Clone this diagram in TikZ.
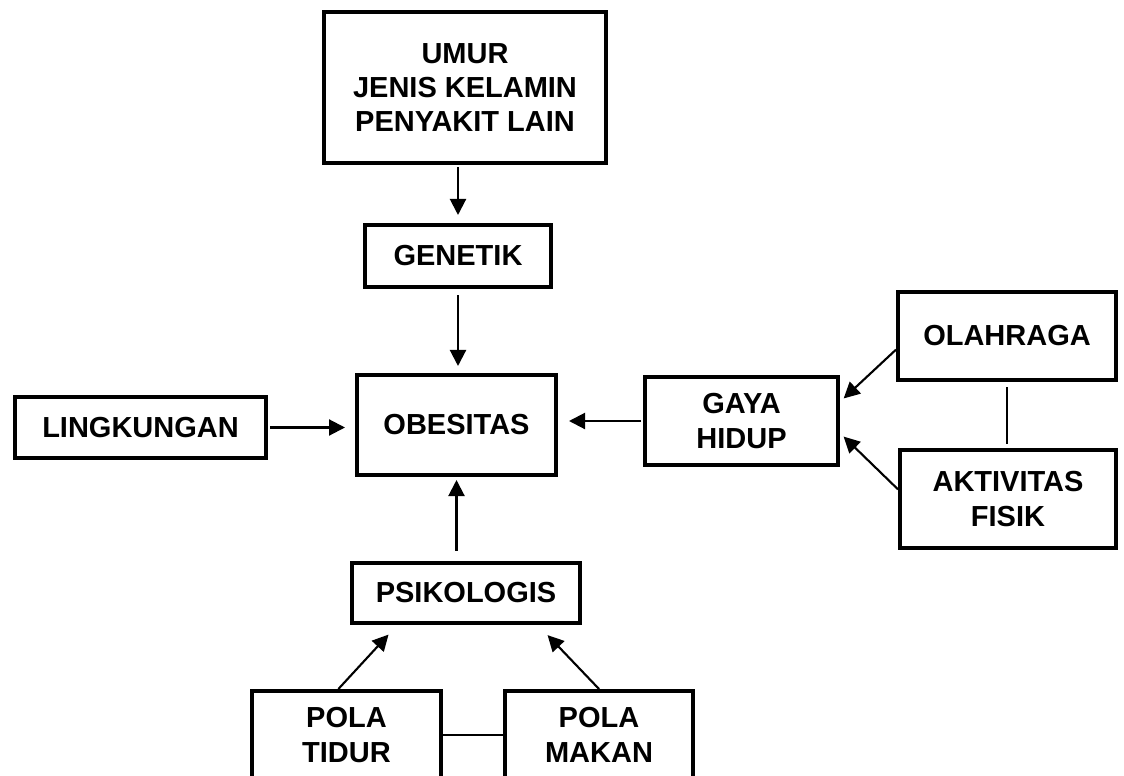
\documentclass[tikz,border=0pt]{standalone}
\usepackage{fontspec}
\setmainfont{Liberation Sans}
\usetikzlibrary{arrows.meta}

\begin{document}
\begin{tikzpicture}[x=0.02cm, y=-0.02cm,
  box/.style={draw, line width=2.3pt, align=center,
    font=\bfseries\fontsize{16.5}{19.5}\selectfont},
  arr/.style={-{Triangle[length=0.32cm, width=0.32cm]}, line width=1.2pt},
  link/.style={line width=1.2pt}]

\useasboundingbox (0,0) rectangle (1124,776);

% Top box
\node[box, minimum width=5.64cm, minimum height=3.02cm] (faktor) at (465,87.5) {UMUR\\JENIS KELAMIN\\PENYAKIT LAIN};

% Middle column
\node[box, minimum width=3.72cm, minimum height=1.24cm] (genetik) at (458,256) {GENETIK};
\node[box, minimum width=3.98cm, minimum height=2.0cm] (obesitas) at (456.5,425) {OBESITAS};
\node[box, minimum width=4.56cm, minimum height=1.2cm] (psikologis) at (466,593) {PSIKOLOGIS};

% Left box
\node[box, minimum width=5.02cm, minimum height=1.22cm] (lingkungan) at (140.5,427.5) {LINGKUNGAN};

% Right boxes
\node[box, minimum width=3.86cm, minimum height=1.76cm] (gaya) at (741.5,421) {GAYA\\HIDUP};
\node[box, minimum width=4.36cm, minimum height=1.76cm] (olahraga) at (1007,336) {OLAHRAGA};
\node[box, minimum width=4.32cm, minimum height=1.96cm] (aktivitas) at (1008,499) {AKTIVITAS\\FISIK};

% Bottom boxes (cut at the lower edge)
\node[box, minimum width=3.78cm, minimum height=1.76cm] (tidur) at (346.5,735) {POLA\\TIDUR};
\node[box, minimum width=3.76cm, minimum height=1.76cm] (makan) at (599,735) {POLA\\MAKAN};

% Arrows into the middle column
\draw[arr, shorten <=0.04cm, shorten >=0.16cm] (genetik.north |- faktor.south) -- (genetik.north);
\draw[arr, shorten <=0.12cm, shorten >=0.14cm] (genetik.south) -- (genetik.south |- obesitas.north);
\draw[arr, shorten <=0.2cm, shorten >=0.06cm] (obesitas.south |- psikologis.north) -- (obesitas.south);
\draw[arr, shorten <=0.04cm, shorten >=0.2cm] (lingkungan.east) -- (lingkungan.east -| obesitas.west);
\draw[arr, shorten <=0.04cm, shorten >=0.22cm] (gaya.west) -- (gaya.west -| obesitas.east);

% Right side
\draw[arr, shorten >=0.1cm] (olahraga.187) -- (gaya.11);
\draw[arr, shorten >=0.1cm] (aktivitas.175) -- (gaya.-7);
\draw[link, shorten <=0.1cm, shorten >=0.08cm] (olahraga.south) -- (olahraga.south |- aktivitas.north);

% Bottom side
\draw[arr, shorten >=0.26cm] (tidur.100) -- (psikologis.205);
\draw[arr, shorten >=0.28cm] (makan.90) -- (psikologis.-24);
\draw[link] (tidur.east) -- (makan.west);

\end{tikzpicture}
\end{document}
